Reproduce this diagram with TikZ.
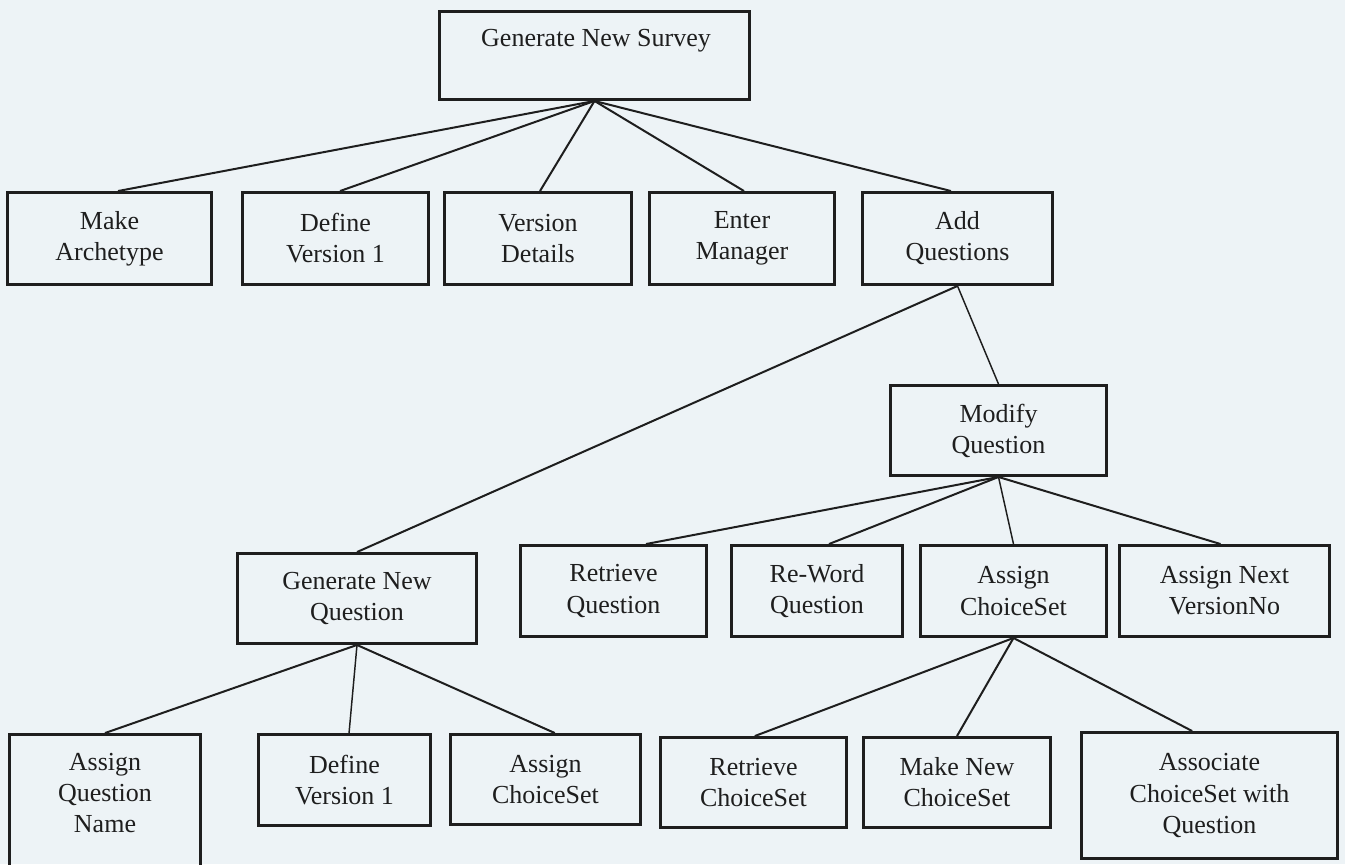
\documentclass[tikz,border=0pt]{standalone}
\usepackage{fontspec}
\setmainfont{Liberation Serif}
\definecolor{paper}{RGB}{237,243,246}
\definecolor{ink}{RGB}{30,30,30}
\begin{document}
\begin{tikzpicture}[x=0.75pt,y=-0.75pt,
  box/.style 2 args={draw=ink, line width=2.2pt, rectangle, inner sep=0pt,
    align=center, minimum width=#1*0.75pt, minimum height=#2*0.75pt,
    font=\fontsize{19.5}{23.3}\selectfont, text=ink},
  lbl/.style={inner sep=0pt, align=center,
    font=\fontsize{19.5}{23.3}\selectfont, text=ink},
  link/.style={draw=ink, line width=1.5pt},
  thinlink/.style={draw=ink, line width=1.1pt}]

% page
\fill[paper] (0,0) rectangle (1345,864);
\useasboundingbox (0,0) rectangle (1345,864);

% root
\node[box={310}{88}] (gns) at (594.5,55.5) {};
\node[lbl] (gnsText) at (596,41) {Generate New Survey};

% second level
\node[box={204}{92}] (ma)  at (109.5,238.5) {Make\\Archetype};
\node[box={186}{92}] (dv1) at (335.5,238.5) {Define\\Version 1};
\node[box={187}{92}] (vd)  at (538,238.5)   {Version\\Details};
\node[box={185}{92}] (em)  at (742,238.5)   {Enter\\Manager};
\node[box={190}{92}] (aq)  at (957.5,238.5) {Add\\Questions};

% question branch
\node[box={216}{90}] (mq)  at (998.5,430.5) {Modify\\Question};
\node[box={239}{90}] (gnq) at (357,598.5)   {Generate New\\Question};

\node[box={186}{91}] (rq)   at (613.5,591)  {Retrieve\\Question};
\node[box={171}{91}] (rwq)  at (817,591)    {Re-Word\\Question};
\node[box={186}{91}] (acs1) at (1013.5,591) {Assign\\ChoiceSet};
\node[box={210}{91}] (anv)  at (1224.5,591) {Assign Next\\VersionNo};

% bottom row
\node[box={191}{154}] (aqn) at (105,811.5) {};
\node[lbl] (aqnText) at (105,793) {Assign\\Question\\Name};
\node[box={172}{91}] (dv1b) at (344.5,780)    {Define\\Version 1};
\node[box={190}{90}] (acs2) at (545.5,779.5)  {Assign\\ChoiceSet};
\node[box={186}{90}] (rcs)  at (753.5,782.5)  {Retrieve\\ChoiceSet};
\node[box={187}{90}] (mnc)  at (957,782.5)    {Make New\\ChoiceSet};
\node[box={256}{126}] (assoc) at (1209.5,795.5) {Associate\\ChoiceSet with\\Question};

% connectors
\draw[link] (gns.south) -- ([xshift=6.4pt]ma.north);
\draw[link] (gns.south) -- ([xshift=3.4pt]dv1.north);
\draw[link] (gns.south) -- ([xshift=1.5pt]vd.north);
\draw[link] (gns.south) -- ([xshift=1.5pt]em.north);
\draw[link] (gns.south) -- ([xshift=-4.9pt]aq.north);

\draw[thinlink] (aq.south) -- (mq.north);
\draw[link] (aq.south) -- (gnq.north);

\draw[link] (mq.south) -- ([xshift=24.4pt]rq.north);
\draw[link] (mq.south) -- ([xshift=9pt]rwq.north);
\draw[thinlink] (mq.south) -- (acs1.north);
\draw[link] (mq.south) -- ([xshift=-3pt]anv.north);

\draw[link] (gnq.south) -- (aqn.north);
\draw[thinlink] (gnq.south) -- ([xshift=3.4pt]dv1b.north);
\draw[link] (gnq.south) -- ([xshift=7pt]acs2.north);

\draw[link] (acs1.south) -- ([xshift=1pt]rcs.north);
\draw[link] (acs1.south) -- (mnc.north);
\draw[link] (acs1.south) -- ([xshift=-13pt]assoc.north);
\end{tikzpicture}
\end{document}
